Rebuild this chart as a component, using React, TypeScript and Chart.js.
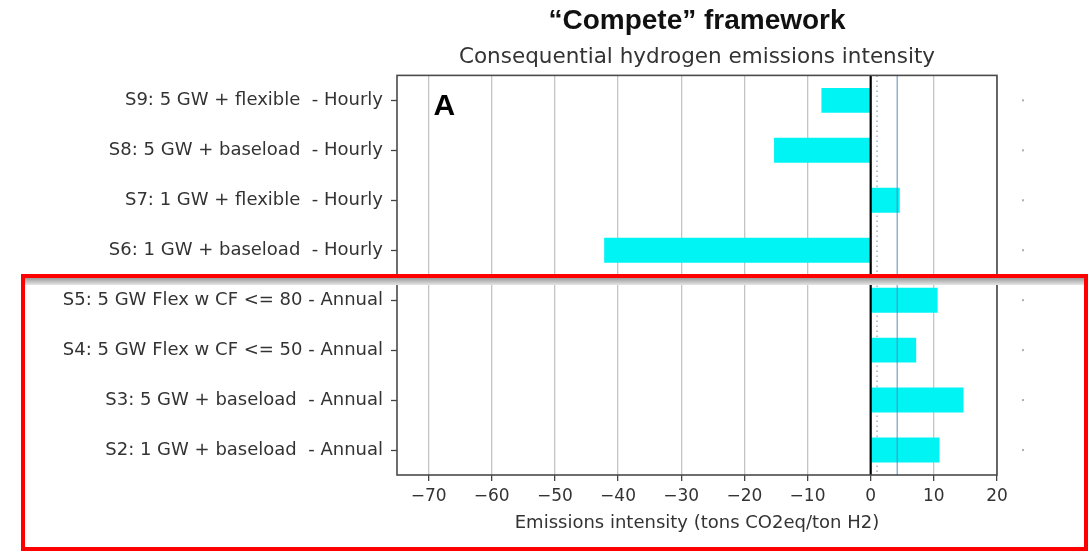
import React, { useEffect, useRef } from 'react';
import { Chart, registerables } from 'chart.js';

Chart.register(...registerables);

const categories = [
  'S9: 5 GW + flexible  - Hourly',
  'S8: 5 GW + baseload  - Hourly',
  'S7: 1 GW + flexible  - Hourly',
  'S6: 1 GW + baseload  - Hourly',
  'S5: 5 GW Flex w CF <= 80 - Annual',
  'S4: 5 GW Flex w CF <= 50 - Annual',
  'S3: 5 GW + baseload  - Annual',
  'S2: 1 GW + baseload  - Annual',
];
const intensity = [-7.8, -15.3, 4.6, -42.2, 10.6, 7.2, 14.7, 10.9];
const xTicks = [-70, -60, -50, -40, -30, -20, -10, 0, 10, 20];
const xMin = -75;
const xMax = 20;
const zeroLine = 0;
const dottedLine = 1;
const blueLine = 4.2;
const panelLabel = 'A';
const panelLabelX = -67.5;
const titleText = '\u201CCompete\u201D framework';
const subtitleText = 'Consequential hydrogen emissions intensity';
const xAxisTitle = 'Emissions intensity (tons CO2eq/ton H2)';

const DV = '"DejaVu Sans", sans-serif';

const decorPlugin = {
  id: 'decor',
  beforeDatasetsDraw(chart: any) {
    const { ctx, chartArea: a, scales } = chart;
    const x = scales.x;
    ctx.save();
    const px = x.getPixelForValue(dottedLine);
    ctx.strokeStyle = 'rgba(130,150,170,0.85)';
    ctx.setLineDash([1.5, 3.5]);
    ctx.lineWidth = 1.3;
    ctx.beginPath();
    ctx.moveTo(px, a.top);
    ctx.lineTo(px, a.bottom);
    ctx.stroke();
    ctx.restore();
  },
  afterDatasetsDraw(chart: any) {
    const { ctx, chartArea: a, scales } = chart;
    const x = scales.x;
    const y = scales.y;
    ctx.save();
    let px = x.getPixelForValue(blueLine);
    ctx.strokeStyle = 'rgba(80,140,190,0.75)';
    ctx.lineWidth = 1.3;
    ctx.beginPath();
    ctx.moveTo(px, a.top);
    ctx.lineTo(px, a.bottom);
    ctx.stroke();

    px = x.getPixelForValue(zeroLine);
    ctx.strokeStyle = '#000';
    ctx.lineWidth = 2.2;
    ctx.beginPath();
    ctx.moveTo(px, a.top);
    ctx.lineTo(px, a.bottom);
    ctx.stroke();

    ctx.strokeStyle = '#4a4a4a';
    ctx.lineWidth = 1.6;
    ctx.strokeRect(a.left, a.top, a.right - a.left, a.bottom - a.top);

    ctx.font = 'bold 30px "Liberation Sans", Arial, sans-serif';
    ctx.fillStyle = '#000';
    ctx.textAlign = 'center';
    ctx.textBaseline = 'middle';
    ctx.fillText(panelLabel, x.getPixelForValue(panelLabelX), y.getPixelForValue(0) + 6);

    ctx.fillStyle = '#b0b0b0';
    categories.forEach((_, i) => {
      const py = y.getPixelForValue(i);
      ctx.fillRect(a.right + 25, py - 1, 2, 2);
    });
    ctx.restore();
  },
};

export default function App() {
  const canvasRef = useRef<HTMLCanvasElement | null>(null);

  useEffect(() => {
    if (!canvasRef.current) return;
    const chart = new Chart(canvasRef.current, {
      type: 'bar',
      data: {
        labels: categories,
        datasets: [
          {
            data: intensity,
            backgroundColor: '#00f4f4',
            borderWidth: 0,
            categoryPercentage: 1,
            barPercentage: 0.5,
          },
        ],
      },
      options: {
        indexAxis: 'y',
        responsive: false,
        animation: false,
        layout: { padding: { left: 0, right: 94, top: 0, bottom: 0 } },
        plugins: {
          legend: { display: false },
          tooltip: { enabled: false },
          title: {
            display: true,
            text: titleText,
            fullSize: false,
            color: '#111',
            font: { family: '"Liberation Sans", Arial, sans-serif', size: 28, weight: 'bold' },
            padding: { top: 4, bottom: 7 },
          },
          subtitle: {
            display: true,
            text: subtitleText,
            fullSize: false,
            color: '#333',
            font: { family: DV, size: 21.5 },
            padding: { top: 0, bottom: 5 },
          },
        },
        scales: {
          x: {
            type: 'linear',
            min: xMin,
            max: xMax,
            afterBuildTicks: (scale: any) => {
              scale.ticks = xTicks.map((v) => ({ value: v }));
            },
            afterFit: (scale: any) => {
              scale.height = 77;
            },
            ticks: {
              color: '#333',
              font: { family: DV, size: 17 },
              padding: 5,
              maxRotation: 0,
              callback: (v: any) => String(v).replace('-', '\u2212'),
            },
            grid: {
              color: '#c4c4c4',
              lineWidth: 1.3,
              drawTicks: true,
              tickLength: 6,
              tickColor: '#444',
              tickWidth: 1.3,
            },
            border: { display: false },
            title: {
              display: true,
              text: xAxisTitle,
              color: '#333',
              font: { family: DV, size: 18 },
              padding: { top: 0, bottom: 18 },
            },
          },
          y: {
            type: 'category',
            offset: true,
            afterFit: (scale: any) => {
              scale.width = 397;
            },
            ticks: {
              color: '#333',
              font: { family: DV, size: 18 },
              padding: 8,
            },
            grid: {
              display: true,
              drawOnChartArea: false,
              drawTicks: true,
              tickLength: 6,
              tickColor: '#444',
              tickWidth: 1.3,
              offset: false,
            },
            border: { display: false },
          },
        },
      },
      plugins: [decorPlugin],
    } as any);
    return () => chart.destroy();
  }, []);

  return (
    <div style={{ position: 'absolute', left: 0, top: 0, width: 1091, height: 552, background: '#fff', overflow: 'hidden' }}>
      <canvas ref={canvasRef} width={1091} height={552} style={{ display: 'block' }} />
      <div
        style={{
          position: 'absolute',
          left: 25,
          top: 278,
          width: 1059,
          height: 7,
          background: 'linear-gradient(#9a9a9a, #e6e6e6)',
          pointerEvents: 'none',
        }}
      />
      <div
        style={{
          position: 'absolute',
          left: 21,
          top: 274,
          width: 1067,
          height: 277,
          border: '4px solid #ff0000',
          boxSizing: 'border-box',
          pointerEvents: 'none',
        }}
      />
    </div>
  );
}
